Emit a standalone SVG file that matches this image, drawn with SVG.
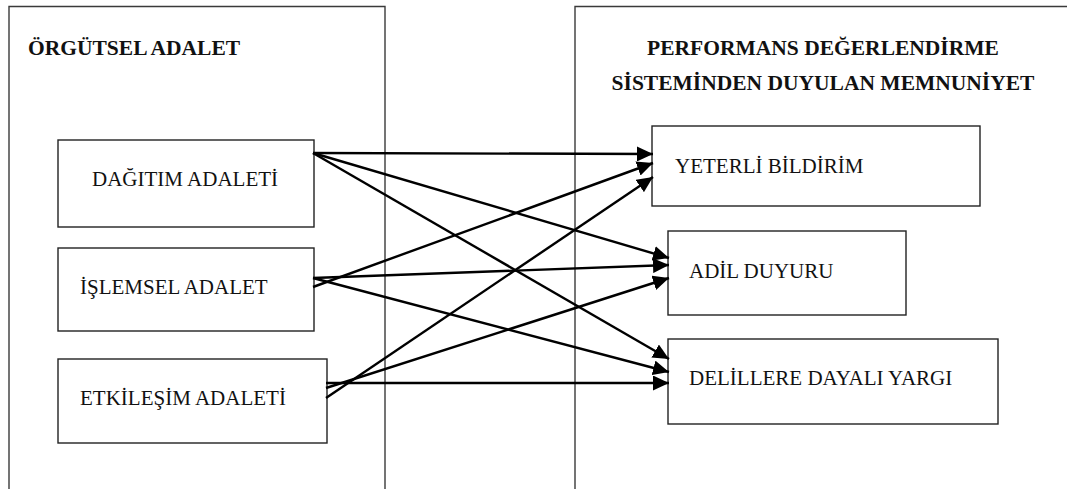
<svg xmlns="http://www.w3.org/2000/svg" width="1067" height="489" viewBox="0 0 1067 489">
<style>
.frame{fill:none;stroke:#3a3a3a;stroke-width:1.4}
.box{fill:#fff;stroke:#222;stroke-width:1.4}
.title{font-family:"Liberation Serif","Times New Roman",serif;font-weight:bold;font-size:21.5px;fill:#111}
.lbl{font-family:"Liberation Serif","Times New Roman",serif;font-size:21px;fill:#111}
.con{stroke:#000;stroke-width:2.4;fill:none;marker-end:url(#ah)}
</style>
<defs>
<marker id="ah" markerUnits="userSpaceOnUse" markerWidth="17" markerHeight="15" refX="16" refY="7.5" orient="auto">
<path d="M0,0 L16,7.5 L0,15 Z" fill="#000"/>
</marker>
</defs>
<rect width="1067" height="489" fill="#fff"/>
<g id="group-left">
<path class="frame" d="M9,489 V6.5 H385 V489"/>
<text class="title" x="28" y="55">ÖRGÜTSEL ADALET</text>
</g>
<g id="group-right">
<path class="frame" d="M575,489 V6.5 H1067"/>
<text class="title" x="823" y="55" text-anchor="middle">PERFORMANS DEĞERLENDİRME</text>
<text class="title" x="823" y="90" text-anchor="middle">SİSTEMİNDEN DUYULAN MEMNUNİYET</text>
</g>
<g id="node-dagitim">
<rect class="box" x="58" y="140" width="256" height="87"/>
<text class="lbl" x="92" y="186">DAĞITIM ADALETİ</text>
</g>
<g id="node-islemsel">
<rect class="box" x="58" y="248" width="256" height="83"/>
<text class="lbl" x="80" y="294">İŞLEMSEL ADALET</text>
</g>
<g id="node-etkilesim">
<rect class="box" x="58" y="359" width="269" height="84"/>
<text class="lbl" x="80" y="405">ETKİLEŞİM ADALETİ</text>
</g>
<g id="node-yeterli">
<rect class="box" x="652" y="126" width="328" height="80"/>
<text class="lbl" x="675" y="173">YETERLİ BİLDİRİM</text>
</g>
<g id="node-adil">
<rect class="box" x="668" y="231" width="238" height="84"/>
<text class="lbl" x="689" y="278">ADİL DUYURU</text>
</g>
<g id="node-delillere">
<rect class="box" x="668" y="339" width="330" height="85"/>
<text class="lbl" x="689" y="385">DELİLLERE DAYALI YARGI</text>
</g>
<g id="connectors">
<line class="con" x1="313" y1="153" x2="653" y2="154"/>
<line class="con" x1="313" y1="153" x2="669" y2="258"/>
<line class="con" x1="313" y1="153" x2="669" y2="359"/>
<line class="con" x1="313" y1="278" x2="669" y2="265"/>
<line class="con" x1="313" y1="278" x2="669" y2="372"/>
<line class="con" x1="313" y1="287" x2="653" y2="163"/>
<line class="con" x1="326" y1="383" x2="669" y2="383"/>
<line class="con" x1="326" y1="388" x2="669" y2="278"/>
<line class="con" x1="326" y1="398" x2="653" y2="177"/>
</g>
</svg>
